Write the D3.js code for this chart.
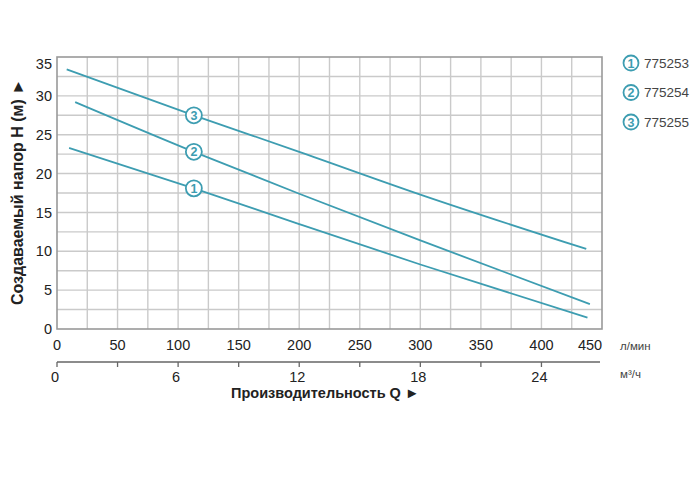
<!DOCTYPE html>
<html><head><meta charset="utf-8">
<script src="https://cdn.jsdelivr.net/npm/d3@7"></script>
<style>body{margin:0;background:#fff}svg{display:block}text{font-family:"Liberation Sans",Arial,sans-serif}</style>
</head><body><svg id="c" width="700" height="498"></svg>
<script>
const seriesNames = ["775253","775254","775255"];
const seriesIds = ["1","2","3"];
const s1 = [[10,23.3],[113,18.1],[200,13.5],[300,8.3],[438,1.45]];
const s2 = [[15,29.2],[113,22.8],[200,17.4],[300,11.4],[440,3.2]];
const s3 = [[8,33.4],[113,27.5],[200,22.8],[300,17.3],[437,10.3]];
const series = [s1,s2,s3];
const markerQ = 113;
const xTicks = [0,50,100,150,200,250,300,350,400,450];
const yTicks = [0,5,10,15,20,25,30,35];
const m3Ticks = [0,6,12,18,24];
const m3Minor = [3,9,15,21];

const color = "#3d9db1";
const svg = d3.select("#c");
const L=57,R=602,T=57,B=329;
const x = d3.scaleLinear().domain([0,450]).range([L,R]);
const y = d3.scaleLinear().domain([0,35]).range([B,T]);
const xm = d3.scaleLinear().domain([0,27]).range([x(0),x(450)]);

// grid
const g = svg.append("g");
g.selectAll(".vg").data(d3.range(25,450,25)).join("line")
  .attr("x1",d=>x(d)).attr("x2",d=>x(d)).attr("y1",T).attr("y2",B)
  .attr("stroke","#cacaca").attr("stroke-width",1.4);
g.selectAll(".hg").data(d3.range(2.5,35,2.5)).join("line")
  .attr("y1",d=>y(d)).attr("y2",d=>y(d)).attr("x1",L).attr("x2",R)
  .attr("stroke","#cacaca").attr("stroke-width",1.4);
g.append("rect").attr("x",L).attr("y",T).attr("width",R-L).attr("height",B-T)
  .attr("fill","none").attr("stroke","#999").attr("stroke-width",1.6);

// y tick labels
svg.append("g").selectAll("text").data(yTicks).join("text")
  .attr("x",52).attr("y",d=>d===35?y(d)+7:y(d)).attr("dy","0.35em")
  .attr("text-anchor","end").attr("font-size",14.5).attr("fill","#222").text(d=>d);
// x tick labels
svg.append("g").selectAll("text").data(xTicks).join("text")
  .attr("x",d=>d===450?x(d)-12:x(d)).attr("y",345).attr("dy","0.35em")
  .attr("text-anchor","middle").attr("font-size",14.5).attr("fill","#222").text(d=>d);
svg.append("text").attr("x",620).attr("y",350).attr("font-size",11.5).attr("fill","#444").text("л/мин");

// m3/h axis
const ax2 = svg.append("g");
ax2.append("line").attr("x1",xm(0)).attr("x2",R-2).attr("y1",362).attr("y2",362).attr("stroke","#666").attr("stroke-width",1.3);
ax2.selectAll(".t").data(m3Ticks.concat(m3Minor)).join("line")
  .attr("x1",d=>xm(d)).attr("x2",d=>xm(d)).attr("y1",362).attr("y2",367)
  .attr("stroke","#666").attr("stroke-width",1.3);
ax2.selectAll("text").data(m3Ticks).join("text")
  .attr("x",d=>xm(d)-2).attr("y",377).attr("dy","0.35em")
  .attr("text-anchor","middle").attr("font-size",14.5).attr("fill","#222").text(d=>d);
svg.append("text").attr("x",620).attr("y",378).attr("font-size",11.5).attr("fill","#444").text("м³/ч");

// titles
svg.append("text").attr("x",231).attr("y",398).attr("font-size",14.5).attr("font-weight","bold").attr("fill","#222")
  .text("Производительность Q  ►");
svg.append("text").attr("transform","translate(23,192) rotate(-90)").attr("text-anchor","middle")
  .attr("font-size",16).attr("font-weight","bold").attr("fill","#222")
  .text("Создаваемый напор H (м) ►");

// lines
const line = d3.line().x(d=>x(d[0])).y(d=>y(d[1])).curve(d3.curveMonotoneX);
svg.append("g").selectAll("path").data(series).join("path")
  .attr("d",line).attr("fill","none").attr("stroke",color).attr("stroke-width",1.8);

// markers on lines
function valAt(s,q){const i=d3.bisector(d=>d[0]).left(s,q);const a=s[Math.max(0,i-1)],b=s[Math.min(s.length-1,i)];if(a===b)return a[1];return a[1]+(b[1]-a[1])*(q-a[0])/(b[0]-a[0]);}
const mk = svg.append("g").selectAll("g").data(series).join("g")
  .attr("transform",(s)=>`translate(${x(markerQ)},${y(valAt(s,markerQ))})`);
mk.append("circle").attr("r",8).attr("fill","#fff").attr("stroke",color).attr("stroke-width",1.8);
mk.append("text").attr("text-anchor","middle").attr("dy","0.36em").attr("font-size",12.5).attr("font-weight","bold")
  .attr("fill",color).text((s,i)=>seriesIds[i]);

// legend
const lg = svg.append("g").selectAll("g").data(seriesNames).join("g")
  .attr("transform",(d,i)=>`translate(631,${63+i*29.5})`);
lg.append("circle").attr("r",7.5).attr("fill","#fff").attr("stroke",color).attr("stroke-width",1.8);
lg.append("text").attr("text-anchor","middle").attr("dy","0.36em").attr("font-size",12.5).attr("font-weight","bold")
  .attr("fill",color).text((d,i)=>seriesIds[i]);
lg.append("text").attr("x",13).attr("dy","0.36em").attr("font-size",13.5).attr("fill","#444").text(d=>d);
</script></body></html>
